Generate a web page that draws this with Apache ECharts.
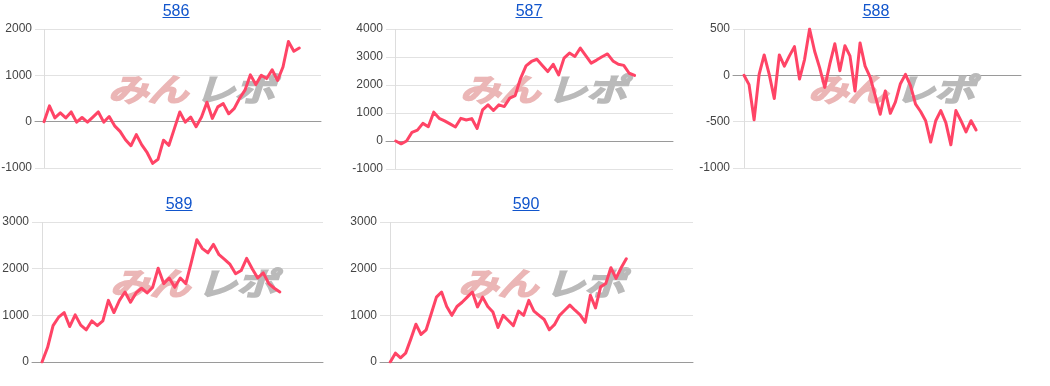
<!DOCTYPE html>
<html>
<head>
<meta charset="utf-8">
<script src="https://cdn.jsdelivr.net/npm/echarts@6/dist/echarts.min.js"></script>
<style>
html,body{margin:0;padding:0;background:#fff;}
#c{width:1050px;height:386px;}
</style>
</head>
<body>
<div id="c"></div>
<script>
// ---- data ----
const titles = ['586', '587', '588', '589', '590'];
const s586 = [0,340,80,190,80,210,-10,90,-10,100,210,-10,110,-90,-210,-390,-520,-280,-500,-670,-900,-810,-400,-510,-150,210,-10,100,-110,100,420,70,320,390,170,280,500,680,1010,800,1000,930,1120,890,1180,1730,1520,1590];
const s587 = [0,-100,0,310,390,630,510,1030,810,720,610,500,810,750,800,450,1110,1290,1090,1290,1230,1530,1620,2240,2680,2840,2920,2700,2480,2740,2360,2960,3140,3020,3320,3050,2780,2890,3010,3110,2860,2740,2700,2420,2340];
const s588 = [0,-100,-480,10,220,10,-250,220,100,210,310,-40,170,500,260,80,-130,120,340,50,320,210,-170,350,100,-20,-220,-420,-170,-410,-290,-90,10,-110,-310,-390,-490,-720,-490,-380,-510,-750,-380,-490,-610,-490,-590];
const s589 = [0,310,780,960,1060,760,1010,790,690,880,780,880,1320,1060,1320,1500,1280,1480,1580,1480,1600,2010,1680,1800,1600,1800,1680,2140,2620,2430,2340,2520,2300,2200,2090,1890,1960,2220,2000,1800,1910,1680,1580,1500];
const s590 = [0,190,90,190,490,810,590,690,1040,1390,1500,1190,1000,1190,1280,1390,1500,1180,1390,1190,1070,740,1000,890,780,1090,1000,1320,1090,1000,910,690,800,1000,1110,1220,1110,1010,850,1430,1160,1610,1680,2020,1790,2020,2210];
const seriesData = [s586, s587, s588, s589, s590];
const yMins = [-1000, -1000, -1000, 0, 0];
const yMaxs = [2000, 4000, 500, 3000, 3000];
const yIntervals = [1000, 1000, 500, 1000, 1000];
const logoA = 'みん';
const logoB = 'レポ';

// ---- layout ----
const grids = [
  {left: 35, top: 29, width: 286, height: 139},
  {left: 386, top: 29, width: 287, height: 140},
  {left: 733, top: 29, width: 288, height: 139},
  {left: 32, top: 222, width: 291, height: 140},
  {left: 380, top: 222, width: 313, height: 140}
];
const xMins = [-1.66, -1.79, -2.18, -1.81, -2.0];
const xMaxs = [51.0, 51.07, 54.9, 50.8, 59.0];
const titlePos = [[176, 16], [529, 16], [876, 16], [179, 209], [526, 209]];
const logoPos = [[108, 89], [460, 89], [808, 89], [110, 283], [458, 283]];

const LINE = '#ff4466';
const option = {
  animation: false,
  backgroundColor: '#ffffff',
  grid: [], xAxis: [], yAxis: [], series: [], graphic: []
};

seriesData.forEach((arr, i) => {
  option.grid.push(Object.assign({outerBoundsMode: 'none', containLabel: false}, grids[i]));
  option.xAxis.push({
    type: 'value', gridIndex: i, min: xMins[i], max: xMaxs[i],
    axisLine: {show: true, onZero: true, lineStyle: {color: '#9a9a9a', width: 1}},
    axisTick: {show: false}, axisLabel: {show: false}, splitLine: {show: false}
  });
  option.yAxis.push({
    type: 'value', gridIndex: i, min: yMins[i], max: yMaxs[i], interval: yIntervals[i],
    axisLine: {show: false}, axisTick: {show: false},
    axisLabel: {color: '#444', fontSize: 12, fontFamily: 'Liberation Sans, Arial, sans-serif', margin: 3,
                formatter: v => String(v)},
    splitLine: {show: true, lineStyle: {color: '#e2e2e2', width: 1}}
  });
  option.series.push({
    type: 'line', xAxisIndex: i, yAxisIndex: i, z: 10,
    data: arr.map((v, k) => [k, v]),
    showSymbol: false, symbol: 'none',
    lineStyle: {color: LINE, width: 3, join: 'round', cap: 'round'},
    markLine: {
      silent: true, symbol: 'none', animation: false,
      label: {show: false},
      lineStyle: {color: '#dddddd', type: 'solid', width: 1},
      data: [{xAxis: 0}]
    }
  });
  const t = titlePos[i];
  option.graphic.push({
    type: 'text', x: t[0], y: t[1] + 4, z: 20,
    style: {text: titles[i], fill: '#1155cc', font: '16px "Liberation Sans", Arial, sans-serif',
            textAlign: 'center', textVerticalAlign: 'bottom'}
  });
  option.graphic.push({
    type: 'rect', shape: {x: t[0] - 13.5, y: t[1] + 1, width: 27, height: 1}, z: 20,
    style: {fill: '#1155cc'}
  });
  const lp = logoPos[i];
  option.graphic.push({
    type: 'text', x: lp[0], y: lp[1], z: 1, scaleX: 1.05, scaleY: 0.82,
    style: {text: logoA, fill: '#ebb6b6', stroke: '#ebb6b6', lineWidth: 3.5,
            font: 'italic 38px "Noto Sans CJK JP", sans-serif',
            textAlign: 'left', textVerticalAlign: 'middle'}
  });
  option.graphic.push({
    type: 'text', x: lp[0] + 87, y: lp[1], z: 1, scaleX: 1.05, scaleY: 0.82,
    style: {text: logoB, fill: '#bababa', stroke: '#bababa', lineWidth: 3.5,
            font: 'italic 38px "Noto Sans CJK JP", sans-serif',
            textAlign: 'left', textVerticalAlign: 'middle'}
  });
});

const chart = echarts.init(document.getElementById('c'), null, {renderer: 'canvas'});
chart.setOption(option);
</script>
</body>
</html>
